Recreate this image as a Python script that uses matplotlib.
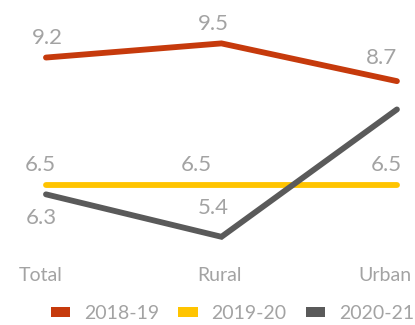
import matplotlib
matplotlib.use("Agg")
import matplotlib.pyplot as plt
from matplotlib.patches import Patch

plt.rcParams['font.family'] = ['Lato', 'DejaVu Sans']

# categories and series
categories = ['Total', 'Rural', 'Urban']
years = ['2018-19', '2019-20', '2020-21']
vals_1819 = [9.2, 9.5, 8.7]
vals_1920 = [6.5, 6.5, 6.5]
vals_2021 = [6.3, 5.4, 8.1]
# which points get a value label (the last 2020-21 point has none)
show_1819 = [True, True, True]
show_1920 = [True, True, True]
show_2021 = [True, True, False]

colors = ['#C63A0C', '#FFC400', '#5A5A5A']
txt_col = '#A3A3A3'

# label offsets in points, one per point
off_1819 = [(1, 14), (-6, 14), (-11, 17)]
off_1920 = [(-4, 14), (-18, 14), (-8, 14)]
off_2021 = [(-3, -17), (-6, 21), (0, 0)]

fig = plt.figure(figsize=(4.15, 3.25), dpi=100)
ax = fig.add_axes([0, 0, 1, 1])
ax.set_xlim(-0.262, 2.103)
ax.set_ylim(3.53, 10.42)
ax.axis('off')

x = list(range(len(categories)))
series = [(vals_1819, show_1819, off_1819),
          (vals_1920, show_1920, off_1920),
          (vals_2021, show_2021, off_2021)]
for (vals, show, offs), c in zip(series, colors):
    ax.plot(x, vals, color=c, lw=4.2, solid_capstyle='round', solid_joinstyle='miter')
    for xi, v, s, o in zip(x, vals, show, offs):
        if s:
            ax.annotate(f'{v:.1f}', (xi, v), xytext=o, textcoords='offset points',
                        ha='center', va='center', fontsize=16, color=txt_col)

# category labels under the lines
cat_offs = [-0.03, -0.01, -0.07]
for xi, name, dx in zip(x, categories, cat_offs):
    ax.text(xi + dx, 4.58, name, ha='center', va='center', fontsize=14, color=txt_col)

handles = [Patch(facecolor=c, edgecolor='none') for c in colors]
leg = fig.legend(handles, years, loc='center', bbox_to_anchor=(0.56, 0.035), ncol=3,
                 frameon=False, fontsize=14, handlelength=1.0, handleheight=0.45,
                 handletextpad=0.7, columnspacing=1.0, labelcolor=txt_col,
                 borderpad=0.0, borderaxespad=0.0)

fig.savefig('out.png', dpi=100)
